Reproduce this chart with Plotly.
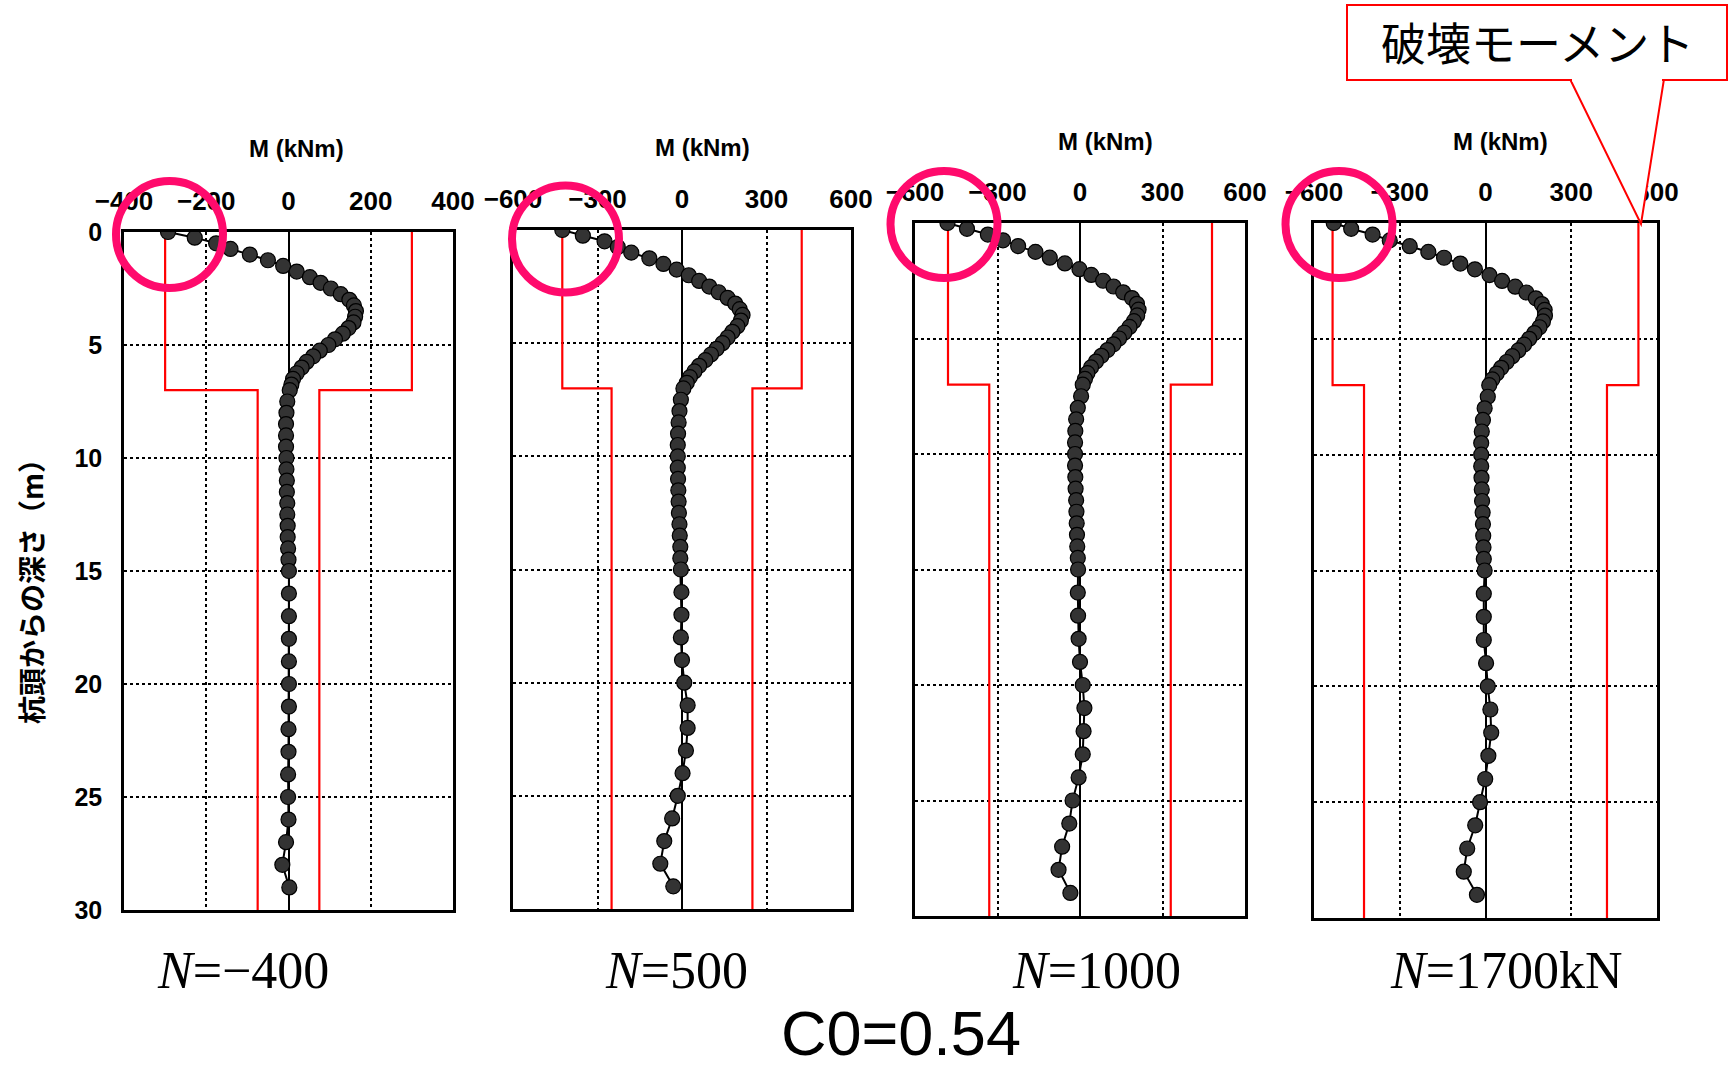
import plotly.graph_objects as go

W, H = 1729, 1071

# depth (m) of each computed point
DEPTH = [0, 0.25, 0.5, 0.75, 1, 1.25, 1.5, 1.75, 2, 2.25, 2.5, 2.75, 3, 3.25, 3.5, 3.75,
         4, 4.25, 4.5, 4.75, 5, 5.25, 5.5, 5.75, 6, 6.25, 6.5, 6.75, 7,
         7.5, 8, 8.5, 9, 9.5, 10, 10.5, 11, 11.5, 12, 12.5, 13, 13.5, 14, 14.5, 15,
         16, 17, 18, 19, 20, 21, 22, 23, 24, 25, 26, 27, 28, 29]

# bending moment M (kNm) for each axial force case
M_N_MINUS400 = [-293, -228, -176, -141, -94, -50, -13, 20, 52, 78, 103, 127, 148, 159, 164, 162,
                158, 146, 132, 113, 97, 76, 60, 44, 32, 20, 11, 7, 3,
                -3, -5, -6, -6, -6, -5, -5, -4, -4, -3, -3, -2, -2, -1, 0, 1,
                1, 1, 1, 1, 1, 1, 0, 0, -1, -1, 0, -6, -15, 2]
M_N_500 = [-425, -352, -275, -228, -180, -116, -66, -19, 24, 61, 97, 130, 162, 189, 205, 215,
           209, 197, 179, 162, 144, 123, 103, 83, 61, 44, 28, 17, 5,
           -4, -9, -12, -14, -15, -15, -15, -14, -13, -12, -11, -9, -8, -6, -6, -4,
           -2, -2, -4, 0, 8, 20, 20, 14, 2, -15, -35, -63, -77, -31]
M_N_1000 = [-482, -411, -335, -280, -225, -162, -110, -55, -2, 41, 84, 122, 157, 189, 207, 213,
            208, 196, 180, 161, 142, 122, 100, 78, 58, 40, 27, 18, 10,
            4, -8, -14, -17, -18, -18, -18, -17, -16, -14, -13, -12, -11, -10, -8, -7,
            -8, -7, -5, 0, 10, 16, 13, 10, -5, -27, -39, -65, -78, -35]
M_N_1700 = [-531, -470, -395, -335, -265, -200, -145, -88, -37, 14, 58, 104, 143, 176, 197, 207,
            208, 201, 189, 171, 153, 135, 115, 94, 74, 55, 39, 24, 13,
            8, -3, -9, -13, -15, -15, -15, -14, -13, -12, -10, -9, -8, -7, -6, -3,
            -6, -6, -6, 2, 8, 17, 20, 10, -1, -19, -36, -64, -76, -30]

# ultimate (failure) moment envelope: upper part (0-7 m) and lower part (7-30 m)
LIMIT_DEPTH = [0, 7, 7, 30]
LIMIT_UPPER = [300, 425, 480, 535]
LIMIT_LOWER = [75, 250, 330, 425]

CASES = [M_N_MINUS400, M_N_500, M_N_1000, M_N_1700]
CASE_LABELS = ["<i>N</i>=−400", "<i>N</i>=500", "<i>N</i>=1000", "<i>N</i>=1700kN"]
X_RANGES = [400, 600, 600, 600]
X_TICKS = [[-400, -200, 0, 200, 400], [-600, -300, 0, 300, 600],
           [-600, -300, 0, 300, 600], [-600, -300, 0, 300, 600]]
Y_TICKS = [0, 5, 10, 15, 20, 25, 30]

# panel boxes in pixels (left, right, top, bottom)
BOXES = [(124, 453, 232, 910), (513, 851, 230, 909), (915, 1245, 223, 916), (1314, 1657, 223, 918)]
TITLE_POS = [(296, 149), (702, 148), (1105, 142), (1500, 142)]
LABEL_POS = [(243, 970), (676, 970), (1096, 970), (1506, 970)]
CIRCLES = [(169.5, 234.5), (565.5, 239), (944, 224.5), (1339, 224.5)]


def px(x):
    return x / W


def py(y):
    return 1 - y / H


fig = go.Figure()
layout = dict(width=W, height=H, margin=dict(l=0, r=0, t=0, b=0), autosize=False,
              paper_bgcolor="white", plot_bgcolor="white", showlegend=False,
              font=dict(family="Liberation Sans, Arial, sans-serif", color="black"))
shapes = []
annotations = []

for i, vals in enumerate(CASES):
    n = i + 1
    xa = "x" if n == 1 else f"x{n}"
    ya = "y" if n == 1 else f"y{n}"
    L, R, T, B = BOXES[i]
    rng = X_RANGES[i]
    up, lo = LIMIT_UPPER[i], LIMIT_LOWER[i]
    # limit lines
    fig.add_trace(go.Scatter(x=[-up, -up, -lo, -lo], y=LIMIT_DEPTH, mode="lines",
                             line=dict(color="#ff0000", width=2.2), xaxis=xa, yaxis=ya,
                             hoverinfo="skip"))
    fig.add_trace(go.Scatter(x=[up, up, lo, lo], y=LIMIT_DEPTH, mode="lines",
                             line=dict(color="#ff0000", width=2.2), xaxis=xa, yaxis=ya,
                             hoverinfo="skip"))
    # moment distribution
    fig.add_trace(go.Scatter(x=vals, y=DEPTH, mode="lines+markers",
                             line=dict(color="black", width=2),
                             marker=dict(size=15, color="#333333", line=dict(color="black", width=1.2)),
                             xaxis=xa, yaxis=ya))
    xkey = "xaxis" if n == 1 else f"xaxis{n}"
    ykey = "yaxis" if n == 1 else f"yaxis{n}"
    layout[xkey] = dict(domain=[px(L), px(R)], anchor=ya, side="top", range=[-rng, rng],
                        tickvals=X_TICKS[i], ticks="", showline=True, mirror=True,
                        linecolor="black", linewidth=2.5, showgrid=True, gridcolor="black",
                        griddash="dot", gridwidth=1.5, zeroline=True, zerolinecolor="black",
                        zerolinewidth=2, tickfont=dict(size=26, color="black", weight="bold"),
                        ticklabelstandoff=9, automargin=False, fixedrange=True)
    layout[ykey] = dict(domain=[py(B), py(T)], anchor=xa, range=[30, 0], tickvals=Y_TICKS,
                        ticks="", showline=True, mirror=True, linecolor="black", linewidth=2.5,
                        showgrid=True, gridcolor="black", griddash="dot", gridwidth=1.5,
                        zeroline=False, showticklabels=(n == 1),
                        tickfont=dict(size=25, color="black", weight="bold"), ticklabelstandoff=14,
                        automargin=False, fixedrange=True)
    tx, ty = TITLE_POS[i]
    annotations.append(dict(x=px(tx), y=py(ty), xref="paper", yref="paper", text="<b>M (kNm)</b>",
                            showarrow=False, xanchor="center", yanchor="middle",
                            font=dict(size=24, color="black", family="Liberation Sans, Arial")))
    lx, ly = LABEL_POS[i]
    annotations.append(dict(x=px(lx), y=py(ly), xref="paper", yref="paper", text=CASE_LABELS[i],
                            showarrow=False, xanchor="center", yanchor="middle",
                            font=dict(size=52, color="black",
                                      family="Liberation Serif, Times New Roman, serif")))
    cx, cy = CIRCLES[i]
    r = 53.5
    shapes.append(dict(type="circle", xref="paper", yref="paper", layer="above",
                       x0=px(cx - r), x1=px(cx + r), y0=py(cy + r), y1=py(cy - r),
                       line=dict(color="#ff0a6c", width=8)))

# y-axis title
annotations.append(dict(x=px(31), y=py(585), xref="paper", yref="paper",
                        text="杭頭からの深さ（m）", textangle=-90, showarrow=False,
                        xanchor="center", yanchor="middle",
                        font=dict(size=28, color="black", family="Noto Sans CJK JP", weight="bold")))
# overall caption
annotations.append(dict(x=px(901), y=py(1033), xref="paper", yref="paper", text="C0=0.54",
                        showarrow=False, xanchor="center", yanchor="middle",
                        font=dict(size=63, color="black", family="Liberation Sans, Arial")))

# callout "破壊モーメント"
shapes.append(dict(type="path", xref="paper", yref="paper", layer="above",
                   path=f"M {px(1570)},{py(79)} L {px(1641)},{py(224)} L {px(1664)},{py(79)} Z",
                   line=dict(color="#ff0000", width=2), fillcolor="white"))
shapes.append(dict(type="rect", xref="paper", yref="paper", layer="above",
                   x0=px(1347), x1=px(1727), y0=py(80), y1=py(5),
                   line=dict(color="#ff0000", width=2), fillcolor="white"))
shapes.append(dict(type="line", xref="paper", yref="paper", layer="above",
                   x0=px(1572), x1=px(1662), y0=py(80), y1=py(80),
                   line=dict(color="white", width=3)))
annotations.append(dict(x=px(1537), y=py(42), xref="paper", yref="paper", text="破壊モーメント",
                        showarrow=False, xanchor="center", yanchor="middle",
                        font=dict(size=45, color="black", family="Noto Sans CJK JP")))

layout["shapes"] = shapes
layout["annotations"] = annotations
fig.update_layout(**layout)
fig.write_html("out.html")
